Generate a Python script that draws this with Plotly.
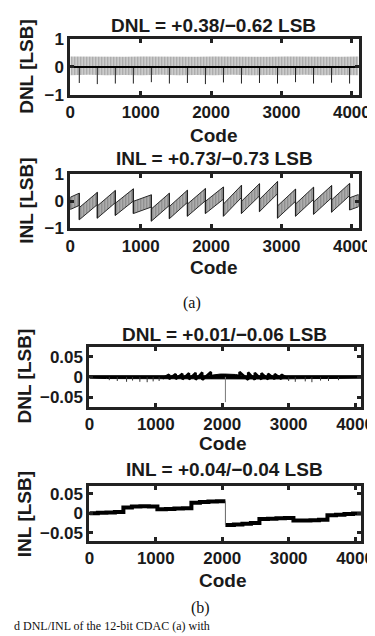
import plotly.graph_objects as go

# ---------------- data ----------------
# (a) DNL: envelope of the dense code-by-code strokes, per 256-code block
dnl_a_block = [0, 256, 512, 768, 1024, 1280, 1536, 1792, 2048, 2304, 2560, 2816, 3072, 3328, 3584, 3840, 4095]
dnl_a_hi = [0.38, 0.37, 0.38, 0.37, 0.38, 0.37, 0.38, 0.37, 0.38, 0.37, 0.38, 0.37, 0.38, 0.37, 0.38, 0.37, 0.38]
dnl_a_lo = [-0.30, -0.28, -0.30, -0.29, -0.30, -0.28, -0.30, -0.29, -0.30, -0.28, -0.30, -0.29, -0.30, -0.28, -0.30, -0.29, -0.30]
dnl_a_mid = [0.0, 0.0, 0.0, 0.0, 0.0, 0.0, 0.0, 0.0, 0.0, 0.0, 0.0, 0.0, 0.0, 0.0, 0.0, 0.0, 0.0]
dnl_a_spike_code = [128, 384, 640, 896, 1152, 1408, 1664, 1920, 2176, 2432, 2688, 2944, 3200, 3456, 3712, 3968]
dnl_a_spike_val = [-0.58, -0.62, -0.60, -0.60, -0.55, -0.60, -0.58, -0.62, -0.56, -0.60, -0.58, -0.60, -0.55, -0.60, -0.57, -0.60]

# (a) INL: sawtooth segments (start code, end code, bottom at start, top at end)
inl_a_start = [0, 128, 384, 640, 896, 1152, 1408, 1664, 1920, 2176, 2432, 2688, 2944, 3200, 3456, 3712, 3968]
inl_a_end = [128, 384, 640, 896, 1152, 1408, 1664, 1920, 2176, 2432, 2688, 2944, 3200, 3456, 3712, 3968, 4095]
inl_a_lo = [-0.30, -0.68, -0.62, -0.52, -0.45, -0.73, -0.64, -0.55, -0.45, -0.55, -0.45, -0.38, -0.62, -0.55, -0.48, -0.40, -0.32]
inl_a_hi = [0.30, 0.33, 0.40, 0.46, 0.24, 0.30, 0.41, 0.47, 0.53, 0.59, 0.65, 0.73, 0.45, 0.52, 0.58, 0.66, 0.25]
inl_a_stroke = 0.45  # height of the vertical strokes inside each tooth

# (b) DNL: noise envelope per 256-code block
dnl_b_block = [0, 256, 512, 768, 1024, 1280, 1536, 1792, 2048, 2304, 2560, 2816, 3072, 3328, 3584, 3840, 4095]
dnl_b_hi = [0.003, 0.003, 0.003, 0.004, 0.004, 0.004, 0.004, 0.004, 0.004, 0.004, 0.004, 0.004, 0.004, 0.004, 0.003, 0.003, 0.003]
dnl_b_lo = [-0.003, -0.004, -0.004, -0.005, -0.005, -0.005, -0.005, -0.004, -0.004, -0.005, -0.005, -0.005, -0.005, -0.004, -0.004, -0.004, -0.003]
dnl_b_dip_code = [300, 420, 560, 650, 760, 870, 960, 1050, 3000, 3100, 3250, 3350, 3480, 3600, 3750]
dnl_b_dip_val = [-0.008, -0.010, -0.012, -0.009, -0.012, -0.013, -0.011, -0.010, -0.010, -0.012, -0.011, -0.013, -0.009, -0.010, -0.008]
dnl_b_lz_x = [1100, 1200, 1200, 1300, 1300, 1400, 1400, 1500, 1500, 1600, 1600, 1700, 1700, 1830, 1830]
dnl_b_lz_y = [-0.004, 0.006, -0.005, 0.007, -0.005, 0.008, -0.006, 0.009, -0.006, 0.010, -0.007, 0.011, -0.007, 0.012, -0.003]
dnl_b_rz_x = [2260, 2260, 2390, 2390, 2490, 2490, 2590, 2590, 2690, 2690, 2790, 2790, 2890, 2890, 2990]
dnl_b_rz_y = [-0.003, 0.012, -0.007, 0.011, -0.007, 0.010, -0.006, 0.009, -0.006, 0.008, -0.005, 0.007, -0.005, 0.006, -0.004]
dnl_b_arch_x = [1830, 1900, 1970, 2040, 2056, 2130, 2200, 2260]
dnl_b_arch_hi = [0.004, 0.006, 0.007, 0.007, 0.007, 0.007, 0.006, 0.004]
dnl_b_arch_lo = [-0.003, -0.001, 0.000, 0.000, 0.000, 0.000, -0.001, -0.003]
dnl_b_spike_code = [2048]
dnl_b_spike_val = [-0.062]

# (b) INL per 128-code block
inl_b_code = [0, 128, 256, 384, 512, 640, 768, 896, 1024, 1152, 1280, 1408, 1536, 1664, 1792, 1920,
              2048, 2176, 2304, 2432, 2560, 2688, 2816, 2944, 3072, 3200, 3328, 3456, 3584, 3712, 3840, 3968, 4095]
inl_b_val = [0.000, 0.001, 0.002, 0.003, 0.015, 0.017, 0.018, 0.017, 0.010, 0.011, 0.012, 0.013,
             0.027, 0.029, 0.030, 0.031, -0.030, -0.029, -0.027, -0.025, -0.015, -0.014, -0.013, -0.012,
             -0.019, -0.019, -0.018, -0.017, -0.005, -0.004, -0.002, -0.001, 0.000]

x_ticks = [0, 1000, 2000, 3000, 4000]
x_ticktext = ["0", "1000", "2000", "3000", "4000"]
ya_ticks = [-1, 0, 1]
ya_ticktext = ["\u22121", "0", "1"]
yb_ticks = [-0.05, 0, 0.05]
yb_ticktext = ["\u22120.05", "0", "0.05"]

titles = ["DNL = +0.38/\u22120.62 LSB", "INL = +0.73/\u22120.73 LSB",
          "DNL = +0.01/\u22120.06 LSB", "INL = +0.04/\u22120.04 LSB"]
ytitles = ["DNL [LSB]", "INL [LSB]", "DNL [LSB]", "INL [LSB]"]
caption = "d DNL/INL of the 12-bit CDAC (a) with"

# ---------------- figure ----------------
W, H = 375, 636
def fx(p): return p / W
def fy(p): return 1 - p / H

FONT = "Liberation Sans, Arial, sans-serif"
fig = go.Figure()

# --- panel 1: DNL (a)
fig.add_trace(go.Scatter(
    x=dnl_a_block + dnl_a_block[::-1], y=dnl_a_hi + dnl_a_lo[::-1],
    fill="toself", mode="lines", line=dict(width=0),
    fillcolor="white",
    fillpattern=dict(shape="|", fgcolor="#5e5e5e", bgcolor="#e6e6e6", size=3, solidity=0.6),
    xaxis="x", yaxis="y", hoverinfo="skip", showlegend=False))
sx, sy = [], []
for c, v in zip(dnl_a_spike_code, dnl_a_spike_val):
    sx += [c, c, None]; sy += [0, v, None]
fig.add_trace(go.Scatter(x=sx, y=sy, mode="lines", line=dict(color="#222", width=1),
                         xaxis="x", yaxis="y", showlegend=False))
fig.add_trace(go.Scatter(x=dnl_a_block, y=dnl_a_mid, mode="lines", line=dict(color="black", width=2),
                         xaxis="x", yaxis="y", showlegend=False))

# --- panel 2: INL (a)
for s, e, lo, hi in zip(inl_a_start, inl_a_end, inl_a_lo, inl_a_hi):
    fig.add_trace(go.Scatter(
        x=[s, e, e, s, s], y=[lo, hi - inl_a_stroke, hi, lo + inl_a_stroke, lo],
        fill="toself", mode="lines", line=dict(color="#2a2a2a", width=1),
        fillcolor="white",
        fillpattern=dict(shape="|", fgcolor="#3c3c3c", bgcolor="#cfcfcf", size=3, solidity=0.65),
        xaxis="x2", yaxis="y2", hoverinfo="skip", showlegend=False))
dx, dy = [], []
for i in range(len(inl_a_end) - 1):
    dx += [inl_a_end[i], inl_a_end[i], None]
    dy += [inl_a_hi[i], inl_a_lo[i + 1], None]
fig.add_trace(go.Scatter(x=dx, y=dy, mode="lines", line=dict(color="#222", width=1.2),
                         xaxis="x2", yaxis="y2", showlegend=False))

# --- panel 3: DNL (b)
fig.add_trace(go.Scatter(
    x=dnl_b_block + dnl_b_block[::-1], y=dnl_b_hi + dnl_b_lo[::-1],
    fill="toself", mode="lines", line=dict(color="black", width=1), fillcolor="black",
    xaxis="x3", yaxis="y3", hoverinfo="skip", showlegend=False))
px_, py_ = [], []
for c, v in zip(dnl_b_dip_code, dnl_b_dip_val):
    px_ += [c, c, None]; py_ += [0, v, None]
fig.add_trace(go.Scatter(x=px_, y=py_, mode="lines", line=dict(color="#333", width=1),
                         xaxis="x3", yaxis="y3", showlegend=False))
fig.add_trace(go.Scatter(x=dnl_b_lz_x, y=dnl_b_lz_y, mode="lines", line=dict(color="black", width=2.5),
                         xaxis="x3", yaxis="y3", showlegend=False))
fig.add_trace(go.Scatter(x=dnl_b_rz_x, y=dnl_b_rz_y, mode="lines", line=dict(color="black", width=2.5),
                         xaxis="x3", yaxis="y3", showlegend=False))
fig.add_trace(go.Scatter(
    x=dnl_b_arch_x + dnl_b_arch_x[::-1], y=dnl_b_arch_hi + dnl_b_arch_lo[::-1],
    fill="toself", mode="lines", line=dict(color="black", width=1), fillcolor="black",
    xaxis="x3", yaxis="y3", hoverinfo="skip", showlegend=False))
kx, ky = [], []
for c, v in zip(dnl_b_spike_code, dnl_b_spike_val):
    kx += [c, c, None]; ky += [0, v, None]
fig.add_trace(go.Scatter(x=kx, y=ky, mode="lines", line=dict(color="#777", width=1),
                         xaxis="x3", yaxis="y3", showlegend=False))

# --- panel 4: INL (b)
half = inl_b_code.index(2048)
fig.add_trace(go.Scatter(x=inl_b_code[:half + 1], y=inl_b_val[:half] + [inl_b_val[half - 1]],
                         mode="lines", line=dict(color="black", width=4, shape="hv"),
                         xaxis="x4", yaxis="y4", showlegend=False))
fig.add_trace(go.Scatter(x=inl_b_code[half:], y=inl_b_val[half:],
                         mode="lines", line=dict(color="black", width=4, shape="hv"),
                         xaxis="x4", yaxis="y4", showlegend=False))
fig.add_trace(go.Scatter(x=[inl_b_code[half], inl_b_code[half]], y=[inl_b_val[half - 1], inl_b_val[half]],
                         mode="lines", line=dict(color="#666", width=1),
                         xaxis="x4", yaxis="y4", showlegend=False))

# ---------------- axes ----------------
tickfont = dict(family=FONT, size=17, color="#1a1a1a", weight="bold")
def xax(dom, anchor):
    return dict(domain=dom, anchor=anchor, range=[0, 4096], tickvals=x_ticks, ticktext=x_ticktext,
                showline=True, mirror="ticks", linewidth=3, linecolor="#222", ticks="inside",
                ticklen=4, tickwidth=3, tickcolor="#222", showgrid=False, zeroline=False,
                tickfont=tickfont, fixedrange=True)
def yax(dom, anchor, rng, tv, tt):
    return dict(domain=dom, anchor=anchor, range=rng, tickvals=tv, ticktext=tt,
                showline=True, mirror="ticks", linewidth=3, linecolor="#222", ticks="inside",
                ticklen=4, tickwidth=3, tickcolor="#222", showgrid=False, zeroline=False,
                tickfont=tickfont, fixedrange=True)

dx1 = [fx(60), fx(362)]
dx3 = [fx(80), fx(365)]
fig.update_layout(
    width=W, height=H, margin=dict(l=0, r=0, t=0, b=0),
    paper_bgcolor="white", plot_bgcolor="white", showlegend=False,
    xaxis=xax(dx1, "y"), yaxis=yax([fy(80), fy(23)], "x", [-1, 1], ya_ticks, ya_ticktext),
    xaxis2=xax(dx1, "y2"), yaxis2=yax([fy(218), fy(162)], "x2", [-1, 1], ya_ticks, ya_ticktext),
    xaxis3=xax(dx3, "y3"), yaxis3=yax([fy(402), fy(340)], "x3", [-0.074, 0.074], yb_ticks, yb_ticktext),
    xaxis4=xax(dx3, "y4"), yaxis4=yax([fy(540), fy(483)], "x4", [-0.071, 0.071], yb_ticks, yb_ticktext),
)

ann = []
bold = lambda s: dict(family=FONT, size=s, color="#1a1a1a", weight="bold")
for (x, y), t in zip([(210, 9), (211, 146), (222, 327), (222, 466)], titles):
    ann.append(dict(x=fx(x), y=fy(y), xref="paper", yref="paper", text=t, showarrow=False,
                    xanchor="center", yanchor="middle", font=bold(19)))
for (x, y) in [(211, 122), (211, 258), (220, 440), (220, 581)]:
    ann.append(dict(x=fx(x), y=fy(y), xref="paper", yref="paper", text="Code", showarrow=False,
                    xanchor="center", yanchor="middle", font=bold(19)))
for (x, y), t in zip([(14, 51), (14, 189), (12, 370), (12, 512)], ytitles):
    ann.append(dict(x=fx(x), y=fy(y), xref="paper", yref="paper", text=t, showarrow=False,
                    textangle=-90, xanchor="center", yanchor="middle", font=bold(19)))
serif = dict(family="Liberation Serif, Times New Roman, serif", size=16, color="#111")
ann.append(dict(x=fx(187), y=fy(295), xref="paper", yref="paper", text="(a)", showarrow=False,
                xanchor="center", yanchor="middle", font=serif))
ann.append(dict(x=fx(196), y=fy(609), xref="paper", yref="paper", text="(b)", showarrow=False,
                xanchor="center", yanchor="middle", font=serif, borderpad=0))
ann.append(dict(x=fx(0), y=0, xref="paper", yref="paper", text=caption, showarrow=False,
                xanchor="left", yanchor="bottom", borderpad=0,
                font=dict(family="Liberation Serif, Times New Roman, serif", size=12, color="#111")))
fig.update_layout(annotations=ann)

fig.write_html("out.html")
